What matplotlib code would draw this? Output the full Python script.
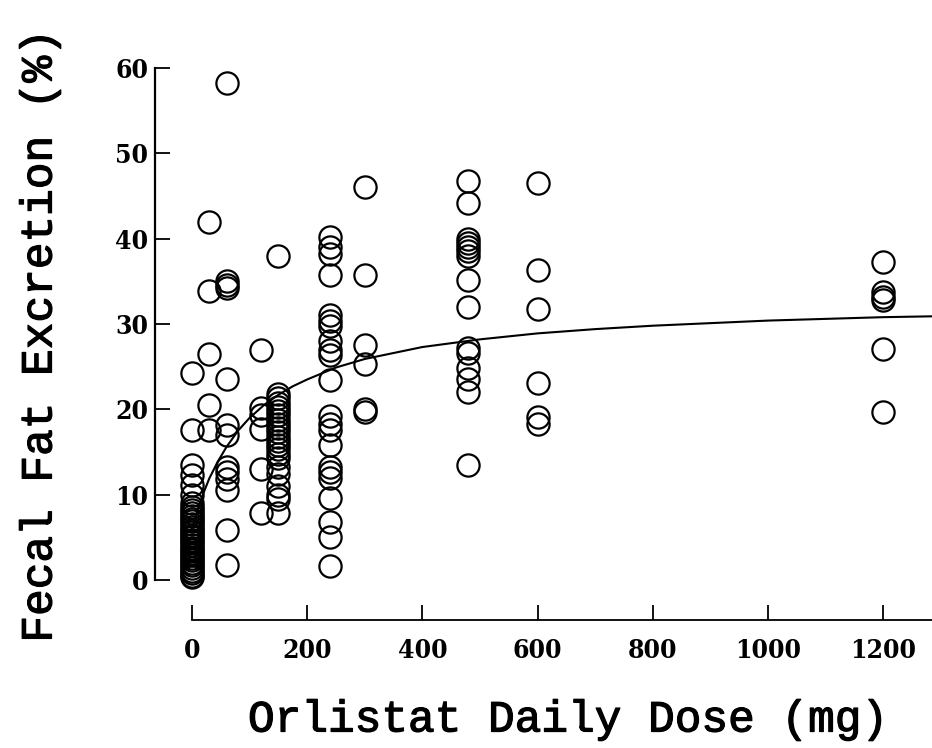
import matplotlib
matplotlib.use("Agg")
import matplotlib.pyplot as plt
import matplotlib.patheffects as pe
import numpy as np

# Observations: dose (mg/day) -> fecal fat excretion (%)
dose_0 = [24.3, 17.6, 13.5, 12.3, 11.1, 10.0, 9.0, 8.6, 8.2, 7.9, 7.5, 7.2, 6.9,
          6.6, 6.2, 5.9, 5.6, 5.3, 5.0, 4.7, 4.4, 4.1, 3.8, 3.5, 3.2, 2.9, 2.6,
          2.3, 2.0, 1.7, 1.4, 1.1, 0.8, 0.5, 0.3]
dose_30 = [42.0, 33.9, 26.5, 20.5, 17.6]
dose_60 = [58.2, 35.0, 34.6, 34.2, 23.6, 18.2, 17.0, 13.3, 12.6, 11.8, 10.6, 5.9, 1.7]
dose_120 = [27.0, 20.2, 19.3, 17.7, 13.0, 7.8]
dose_150 = [38.0, 21.8, 21.3, 20.8, 20.3, 19.8, 19.3, 18.8, 18.3, 17.8, 17.3, 16.8,
            16.3, 15.8, 15.3, 14.8, 14.3, 13.3, 12.4, 11.0, 10.0, 9.5, 7.8]
dose_240 = [40.2, 39.0, 38.2, 35.7, 31.0, 30.4, 29.8, 28.0, 27.0, 26.4, 23.4, 19.2,
            18.3, 17.6, 15.8, 13.2, 12.7, 12.0, 9.6, 6.8, 5.0, 1.6]
dose_300 = [46.0, 35.8, 27.5, 25.3, 20.0, 19.7]
dose_480 = [46.7, 44.2, 40.0, 39.5, 39.0, 38.5, 38.0, 35.2, 32.0, 27.2, 26.6, 24.8,
            23.5, 22.0, 13.5]
dose_600 = [46.5, 36.3, 31.7, 23.1, 19.1, 18.3]
dose_1200 = [37.3, 33.7, 33.2, 32.8, 27.1, 19.7]

groups = {0: dose_0, 30: dose_30, 60: dose_60, 120: dose_120, 150: dose_150,
          240: dose_240, 300: dose_300, 480: dose_480, 600: dose_600, 1200: dose_1200}

# Fitted curve
curve_dose = [0, 10, 20, 30, 45, 60, 80, 100, 125, 150, 175, 200, 250, 300, 350, 400,
              500, 600, 700, 800, 900, 1000, 1100, 1200, 1285]
curve_val = [6.0, 8.3, 10.2, 11.9, 13.9, 15.6, 17.5, 19.0, 20.5, 21.7, 22.7, 23.5,
             24.9, 25.9, 26.6, 27.3, 28.2, 28.9, 29.4, 29.8, 30.1, 30.4, 30.6, 30.8, 30.9]

x_ticks = [0, 200, 400, 600, 800, 1000, 1200]
y_ticks = [0, 10, 20, 30, 40, 50, 60]

fig = plt.figure(figsize=(9.32, 7.48), dpi=100)
ax = fig.add_axes([192/932, 1-580/748, (932-192)/932, 512/748])

for d, vals in groups.items():
    ax.plot([d]*len(vals), vals, linestyle='none', marker='o', markersize=16,
            markerfacecolor='none', markeredgecolor='black', markeredgewidth=1.6,
            clip_on=False, zorder=3)

ax.plot(curve_dose, curve_val, color='black', linewidth=1.5, clip_on=False, zorder=2)

ax.set_xlim(0, 1285)
ax.set_ylim(0, 60)
ax.set_xticks(x_ticks)
ax.set_yticks(y_ticks)

for s in ['top', 'right']:
    ax.spines[s].set_visible(False)
ax.spines['left'].set_position(('outward', 26.6))
ax.spines['bottom'].set_position(('outward', 28.8))
ax.spines['left'].set_linewidth(1.6)
ax.spines['bottom'].set_linewidth(1.3)

tickfont = dict(family='DejaVu Serif', weight='bold', size=19, stretch='condensed')
ax.tick_params(axis='both', direction='in', length=11, width=1.3)
ax.tick_params(axis='x', pad=13)
ax.tick_params(axis='y', pad=5)
ax.set_xticklabels([str(t) for t in x_ticks], fontdict=tickfont)
ax.set_yticklabels([str(t) for t in y_ticks], fontdict=tickfont)

labfont = dict(family='Liberation Mono', weight='normal', size=32)
effects = [pe.withStroke(linewidth=0.9, foreground='black')]
t1 = fig.text(569/932, 1-720/748, 'Orlistat Daily Dose (mg)', ha='center', va='center',
              fontdict=labfont)
t2 = fig.text(40/932, 1-335/748, 'Fecal Fat Excretion (%)', ha='center', va='center',
              rotation=90, fontdict=labfont)
t1.set_path_effects(effects)
t2.set_path_effects(effects)

fig.savefig('out.png', dpi=100)
